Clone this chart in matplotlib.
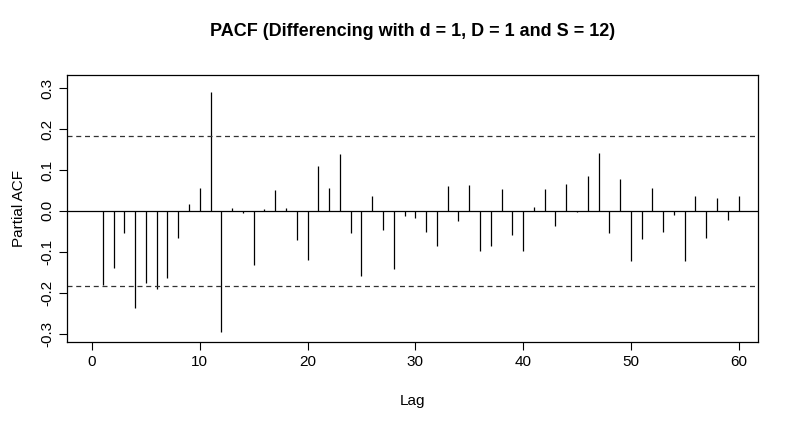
import matplotlib
matplotlib.use("Agg")
import matplotlib.pyplot as plt

plt.rcParams['font.family'] = ['Liberation Sans', 'DejaVu Sans']

lags = list(range(1, 61))
pacf = [-0.18, -0.14, -0.055, -0.237, -0.175, -0.19, -0.163, -0.065, 0.018, 0.055,
        0.29, -0.295, 0.007, -0.005, -0.132, 0.004, 0.052, 0.007, -0.07, -0.12,
        0.11, 0.056, 0.14, -0.053, -0.16, 0.037, -0.047, -0.143, -0.012, -0.017,
        -0.052, -0.085, 0.06, -0.025, 0.063, -0.097, -0.085, 0.053, -0.06, -0.098,
        0.01, 0.053, -0.037, 0.066, -0.003, 0.085, 0.142, -0.055, 0.078, -0.122,
        -0.068, 0.056, -0.052, -0.01, -0.122, 0.037, -0.065, 0.032, -0.022, 0.037]
ci = 0.183

fig = plt.figure(figsize=(8, 4.4), dpi=100)
ax = fig.add_axes([0.084, 0.223, 0.8635, 0.607])

ax.vlines(lags, 0, pacf, color='black', linewidth=0.9)
ax.axhline(0, color='black', linewidth=0.9)
ax.axhline(ci, color='#333333', linestyle=(0, (4, 3)), linewidth=0.9)
ax.axhline(-ci, color='#333333', linestyle=(0, (4, 3)), linewidth=0.9)

ax.set_xlim(-2.3, 61.8)
ax.set_ylim(-0.32, 0.3325)
ax.set_xticks([0, 10, 20, 30, 40, 50, 60])
ax.set_yticks([-0.3, -0.2, -0.1, 0.0, 0.1, 0.2, 0.3])
ax.set_yticklabels(['-0.3', '-0.2', '-0.1', '0.0', '0.1', '0.2', '0.3'],
                   rotation=90, va='center')
ax.tick_params(labelsize=11, direction='out', length=6)
for s in ax.spines.values():
    s.set_linewidth(0.9)

ax.set_xlabel('Lag', fontsize=11, labelpad=18)
ax.set_ylabel('Partial ACF', fontsize=11, labelpad=10)
ax.set_title('PACF (Differencing with d = 1, D = 1 and S = 12)',
             fontsize=13, fontweight='bold', pad=28)

fig.savefig('out.png', dpi=100)
